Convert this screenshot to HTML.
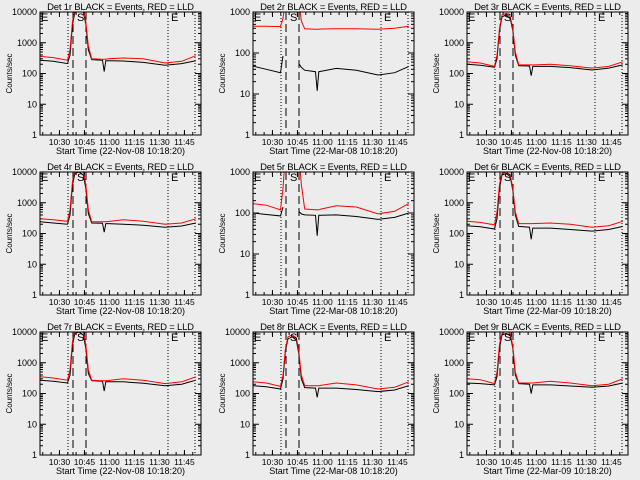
<!DOCTYPE html>
<html><head><meta charset="utf-8"><style>
html,body{margin:0;padding:0;background:#ececec;}
svg{display:block;font-family:"Liberation Sans",sans-serif;}
</style></head><body>
<svg id="chart" width="640" height="480" viewBox="0 0 640 480"></svg>
<script>
const times = [0,8,16.5,18,19.5,21,23.5,26,27.5,29,31,37.5,38.5,39.5,41,50,62,75,85,93.5];
const detNames = ["1r","2r","3r","4r","5r","6r","7r","8r","9r"];
const dateLabels = ["22-Nov-08","22-Mar-08","22-Nov-08","22-Nov-08","22-Mar-08","22-Mar-09","22-Nov-08","22-Mar-08","22-Mar-09"];
const yMaxes = [10000,1000,10000,10000,1000,10000,10000,10000,10000];
const red1 = [360,330,270,600,5000,12000,14000,12000,5000,800,300,290,290,290,300,320,300,220,250,380];
const blk1 = [270,250,210,400,4000,10000,12000,10000,4000,600,280,270,115,260,260,255,230,185,210,260];
const red2 = [450,450,440,700,2000,5000,8000,5000,2000,600,390,380,380,380,385,390,390,380,400,450];
const blk2 = [48,40,33,85,null,null,null,null,55,45,38,35,12,35,36,42,38,29,33,47];
const red3 = [240,220,170,400,3000,8000,9000,7000,3000,500,190,190,190,190,190,200,180,150,170,240];
const blk3 = [200,185,160,300,2500,7000,8000,6000,2500,400,180,175,85,170,170,170,155,130,150,190];
const red4 = [300,280,250,600,5000,11000,12000,10000,4000,600,240,240,240,240,245,280,250,200,220,300];
const blk4 = [240,220,200,400,4000,9000,10000,8000,3000,450,220,215,110,210,210,200,185,160,175,220];
const red5 = [170,155,120,400,3000,8000,10000,8000,3000,500,125,120,120,120,125,150,140,95,110,170];
const blk5 = [100,92,85,140,null,null,null,null,110,95,90,88,28,88,88,90,82,70,78,100];
const red6 = [250,230,190,500,4000,9000,10000,8000,3000,500,210,210,210,210,212,220,200,160,180,250];
const blk6 = [180,165,140,300,3000,8000,9000,7000,2500,400,170,160,65,150,150,150,135,120,135,170];
const red7 = [350,320,270,600,5000,11000,12000,10000,4000,600,270,260,260,260,265,300,270,210,240,350];
const blk7 = [270,250,220,400,4000,9000,10000,8000,3000,450,260,250,120,240,240,240,215,180,200,270];
const red8 = [240,220,170,400,3000,7000,8000,6500,2500,400,180,180,180,180,185,220,190,140,160,240];
const blk8 = [180,165,140,300,2500,6000,7000,5500,2000,300,155,150,75,150,150,150,135,115,130,180];
const red9 = [300,280,210,500,4000,9000,11000,9000,3500,500,220,220,220,220,225,250,220,180,200,300];
const blk9 = [220,210,190,350,3000,8000,9000,7500,3000,400,210,200,100,190,190,190,175,160,175,220];
const redSeries = [red1,red2,red3,red4,red5,red6,red7,red8,red9];
const blackSeries = [blk1,blk2,blk3,blk4,blk5,blk6,blk7,blk8,blk9];
const dottedTimes = [16.8,76.8,93];
const dashedTimes = [19.8,27.6];
const xTickMinutes = [11.67,26.67,41.67,56.67,71.67,86.67];
const xTickLabels = ["10:30","10:45","11:00","11:15","11:30","11:45"];
const tMax = 96.6;

const NS="http://www.w3.org/2000/svg";
const svg=document.getElementById('chart');
function mk(tag,attrs,parent){const e=document.createElementNS(NS,tag);for(const k in attrs)e.setAttribute(k,attrs[k]);(parent||svg).appendChild(e);return e;}

for(let p=0;p<9;p++){
  const c=p%3,r=Math.floor(p/3);
  const L=Math.round(40+c*213.3), R=L+161, T=12+r*160, B=135+r*160;
  const ymax=yMaxes[p], dec=Math.log10(ymax);
  const xs=t=>L+(t/tMax)*(R-L);
  const ys=v=>B-(Math.log10(v)/dec)*(B-T);
  const g=mk('g',{});
  
  
  const clip=mk('clipPath',{id:'cl'+p},g);
  mk('rect',{x:L,y:T,width:R-L,height:B-T},clip);
  const ti=mk('text',{x:(L+R)/2,y:T-2,'text-anchor':'middle','font-size':'9.5','letter-spacing':'-0.2'},g);
  ti.textContent='Det '+detNames[p]+' BLACK = Events, RED = LLD';
  
  
  const yl=mk('text',{x:0,y:0,'text-anchor':'middle','font-size':'8',transform:`translate(${L-28},${(T+B)/2}) rotate(-90)`},g);
  yl.textContent='Counts/sec';
  
  
  const xt=mk('text',{x:(L+R)/2,y:B+19,'text-anchor':'middle','font-size':'9'},g);
  xt.textContent='Start Time ('+dateLabels[p]+' 10:18:20)';
  
  
  for(let d=0;d<=dec;d++){
    const v=Math.pow(10,d),y=ys(v);
    mk('line',{x1:L,x2:L+6,y1:y,y2:y,stroke:'#000'},g);
    mk('line',{x1:R,x2:R-6,y1:y,y2:y,stroke:'#000'},g);
    const tl=mk('text',{x:L-3,y:y+3,'text-anchor':'end','font-size':'9'},g);
    tl.textContent=String(v);
    
    
    if(d<dec)for(let m=2;m<10;m++){const ym=ys(v*m);
      mk('line',{x1:L,x2:L+3,y1:ym,y2:ym,stroke:'#000'},g);
      mk('line',{x1:R,x2:R-3,y1:ym,y2:ym,stroke:'#000'},g);}
  }
  for(let t=1.67;t<tMax;t+=5){const x=xs(t);
    mk('line',{x1:x,x2:x,y1:B,y2:B-3,stroke:'#000'},g);
    mk('line',{x1:x,x2:x,y1:T,y2:T+3,stroke:'#000'},g);}
  xTickMinutes.forEach((t,i)=>{const x=xs(t);
    mk('line',{x1:x,x2:x,y1:B,y2:B-5,stroke:'#000'},g);
    mk('line',{x1:x,x2:x,y1:T,y2:T+5,stroke:'#000'},g);
    const tl=mk('text',{x:x,y:B+10,'text-anchor':'middle','font-size':'8.5'},g);
    tl.textContent=xTickLabels[i];
    
    });
  dottedTimes.forEach(t=>{const l=mk('line',{x1:xs(t),x2:xs(t),y1:T,y2:B,stroke:'#000','stroke-dasharray':'1 2'},g);
    });
  dashedTimes.forEach(t=>{const l=mk('line',{x1:xs(t),x2:xs(t),y1:T,y2:B,stroke:'#000','stroke-dasharray':'8 4'},g);
    });
  function draw(arr,col,name){
    let segs=[],cur=[];
    arr.forEach((v,i)=>{if(v==null){if(cur.length)segs.push(cur);cur=[];}else cur.push(xs(times[i]).toFixed(1)+','+ys(v).toFixed(1));});
    if(cur.length)segs.push(cur);
    segs.forEach(s=>{const pl=mk('polyline',{points:s.join(' '),fill:'none',stroke:col,'stroke-width':'1','clip-path':'url(#cl'+p+')'},g);
      });
  }
  draw(blackSeries[p],'#000','events-line');
  draw(redSeries[p],'#ff0000','lld-line');
  [[1,'E'],[37,'S'],[131,'E']].forEach(([o,ch])=>{
    const mt=mk('text',{x:L+o,y:T+9,'font-size':'11'},g);
    mt.textContent=ch;
    
    });
  const fr=mk('rect',{x:L,y:T,width:R-L,height:B-T,fill:'none',stroke:'#000','stroke-width':'1'},g);
  
  
}
</script>
</body></html>
